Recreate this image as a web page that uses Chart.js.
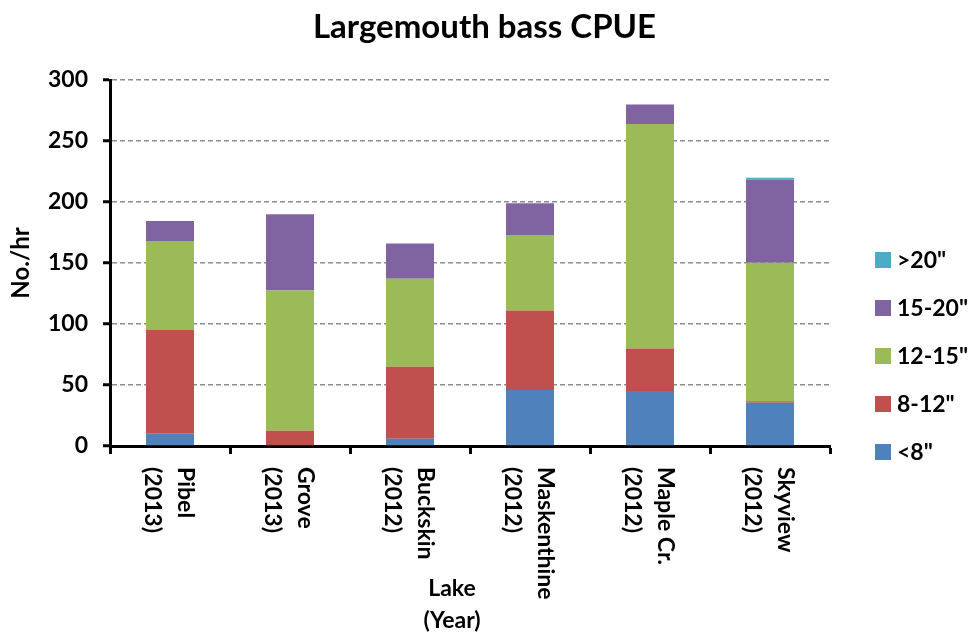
<!DOCTYPE html>
<html>
<head>
<meta charset="utf-8">
<script src="https://cdn.jsdelivr.net/npm/chart.js@4.4.0/dist/chart.umd.min.js"></script>
<style>
body{margin:0;background:#fff;}
#wrap{width:969px;height:632px;position:relative;}
</style>
</head>
<body>
<div id="wrap"><canvas id="cpueChart"></canvas></div>
<script>
// lake names and survey years (two-line labels)
const lakes = ['Pibel', 'Grove', 'Buckskin', 'Maskenthine', 'Maple Cr.', 'Skyview'];
const years = ['(2013)', '(2013)', '(2012)', '(2012)', '(2012)', '(2012)'];

// CPUE (No./hr) by length group
const under8 = [10, 0.8, 6, 46, 45, 35.5];
const from8to12 = [85, 11.7, 59, 65, 35, 1.2];
const from12to15 = [73, 115, 72, 62, 184, 113.5];
const from15to20 = [16.4, 62.5, 29, 26, 16, 68];
const over20 = [0, 0, 0, 0, 0, 1.6];

const yTicks = [0, 50, 100, 150, 200, 250, 300];

const FONT = 'Lato';

const labelPlugin = {
id: 'labelPlugin',
afterDraw(chart) {
const c = chart.ctx;
const xs = chart.scales.x;
c.save();
c.fillStyle = '#000';
// title, centred on the whole canvas
c.font = 'bold 33px ' + FONT;
c.textAlign = 'center';
c.textBaseline = 'middle';
c.fillText('Largemouth bass CPUE', chart.width / 2, 27);

c.font = 'bold 23px ' + FONT;
c.textAlign = 'left';
// rotated category labels, reading downward
lakes.forEach((name, i) => {
const cx = xs.getPixelForValue(i);
c.save();
c.translate(cx, 467);
c.rotate(Math.PI / 2);
c.fillText(name, 0, -15.5);
c.fillText(years[i], 0, 18);
c.restore();
});
// x axis title
c.textAlign = 'center';
c.fillText('Lake', 452, 589);
c.fillText('(Year)', 452, 621);
// legend, largest size group on top
const ds = chart.data.datasets.slice().reverse();
ds.forEach((d, i) => {
const y = 260 + i * 48;
c.fillStyle = d.backgroundColor;
c.fillRect(875, y - 8, 16, 16);
c.fillStyle = '#000';
c.textAlign = 'left';
c.fillText(d.label, 897, y + 1);
});
c.restore();
}
};

new Chart(document.getElementById('cpueChart'), {
type: 'bar',
data: {
labels: lakes,
datasets: [
{label: '<8"', data: under8, backgroundColor: '#4F81BD'},
{label: '8-12"', data: from8to12, backgroundColor: '#C0504D'},
{label: '12-15"', data: from12to15, backgroundColor: '#9BBB59'},
{label: '15-20"', data: from15to20, backgroundColor: '#8064A2'},
{label: '>20"', data: over20, backgroundColor: '#4BACC6'}
]
},
options: {
responsive: true,
maintainAspectRatio: false,
animation: false,
layout: {padding: {left: 0, right: 139, top: 80, bottom: 0}},
categoryPercentage: 1,
barPercentage: 0.4,
plugins: {
legend: {display: false},
tooltip: {enabled: false},
title: {display: false}
},
scales: {
x: {
stacked: true,
ticks: {display: false},
grid: {
display: true,
offset: true,
drawOnChartArea: false,
drawTicks: true,
tickLength: 8,
tickColor: '#000',
tickWidth: 3
},
border: {display: true, color: '#000', width: 3},
afterFit(s) { s.height = 186; }
},
y: {
stacked: true,
min: 0,
max: 300,
afterBuildTicks(s) { s.ticks = yTicks.map(v => ({value: v})); },
ticks: {
color: '#000',
padding: 15,
font: {family: FONT, size: 23, weight: 'bold'}
},
grid: {
color: '#8c8c8c',
lineWidth: 1.5,
tickLength: 7,
tickColor: '#000',
tickWidth: 3,
tickBorderDash: []
},
border: {display: true, color: '#000', width: 3, dash: [5, 3]},
title: {
display: true,
text: 'No./hr',
color: '#000',
font: {family: FONT, size: 24, weight: 'bold'},
padding: {top: 7, bottom: 0}
},
afterFit(s) { s.width = 110; }
}
}
},
plugins: [labelPlugin]
});
</script>
</body>
</html>
